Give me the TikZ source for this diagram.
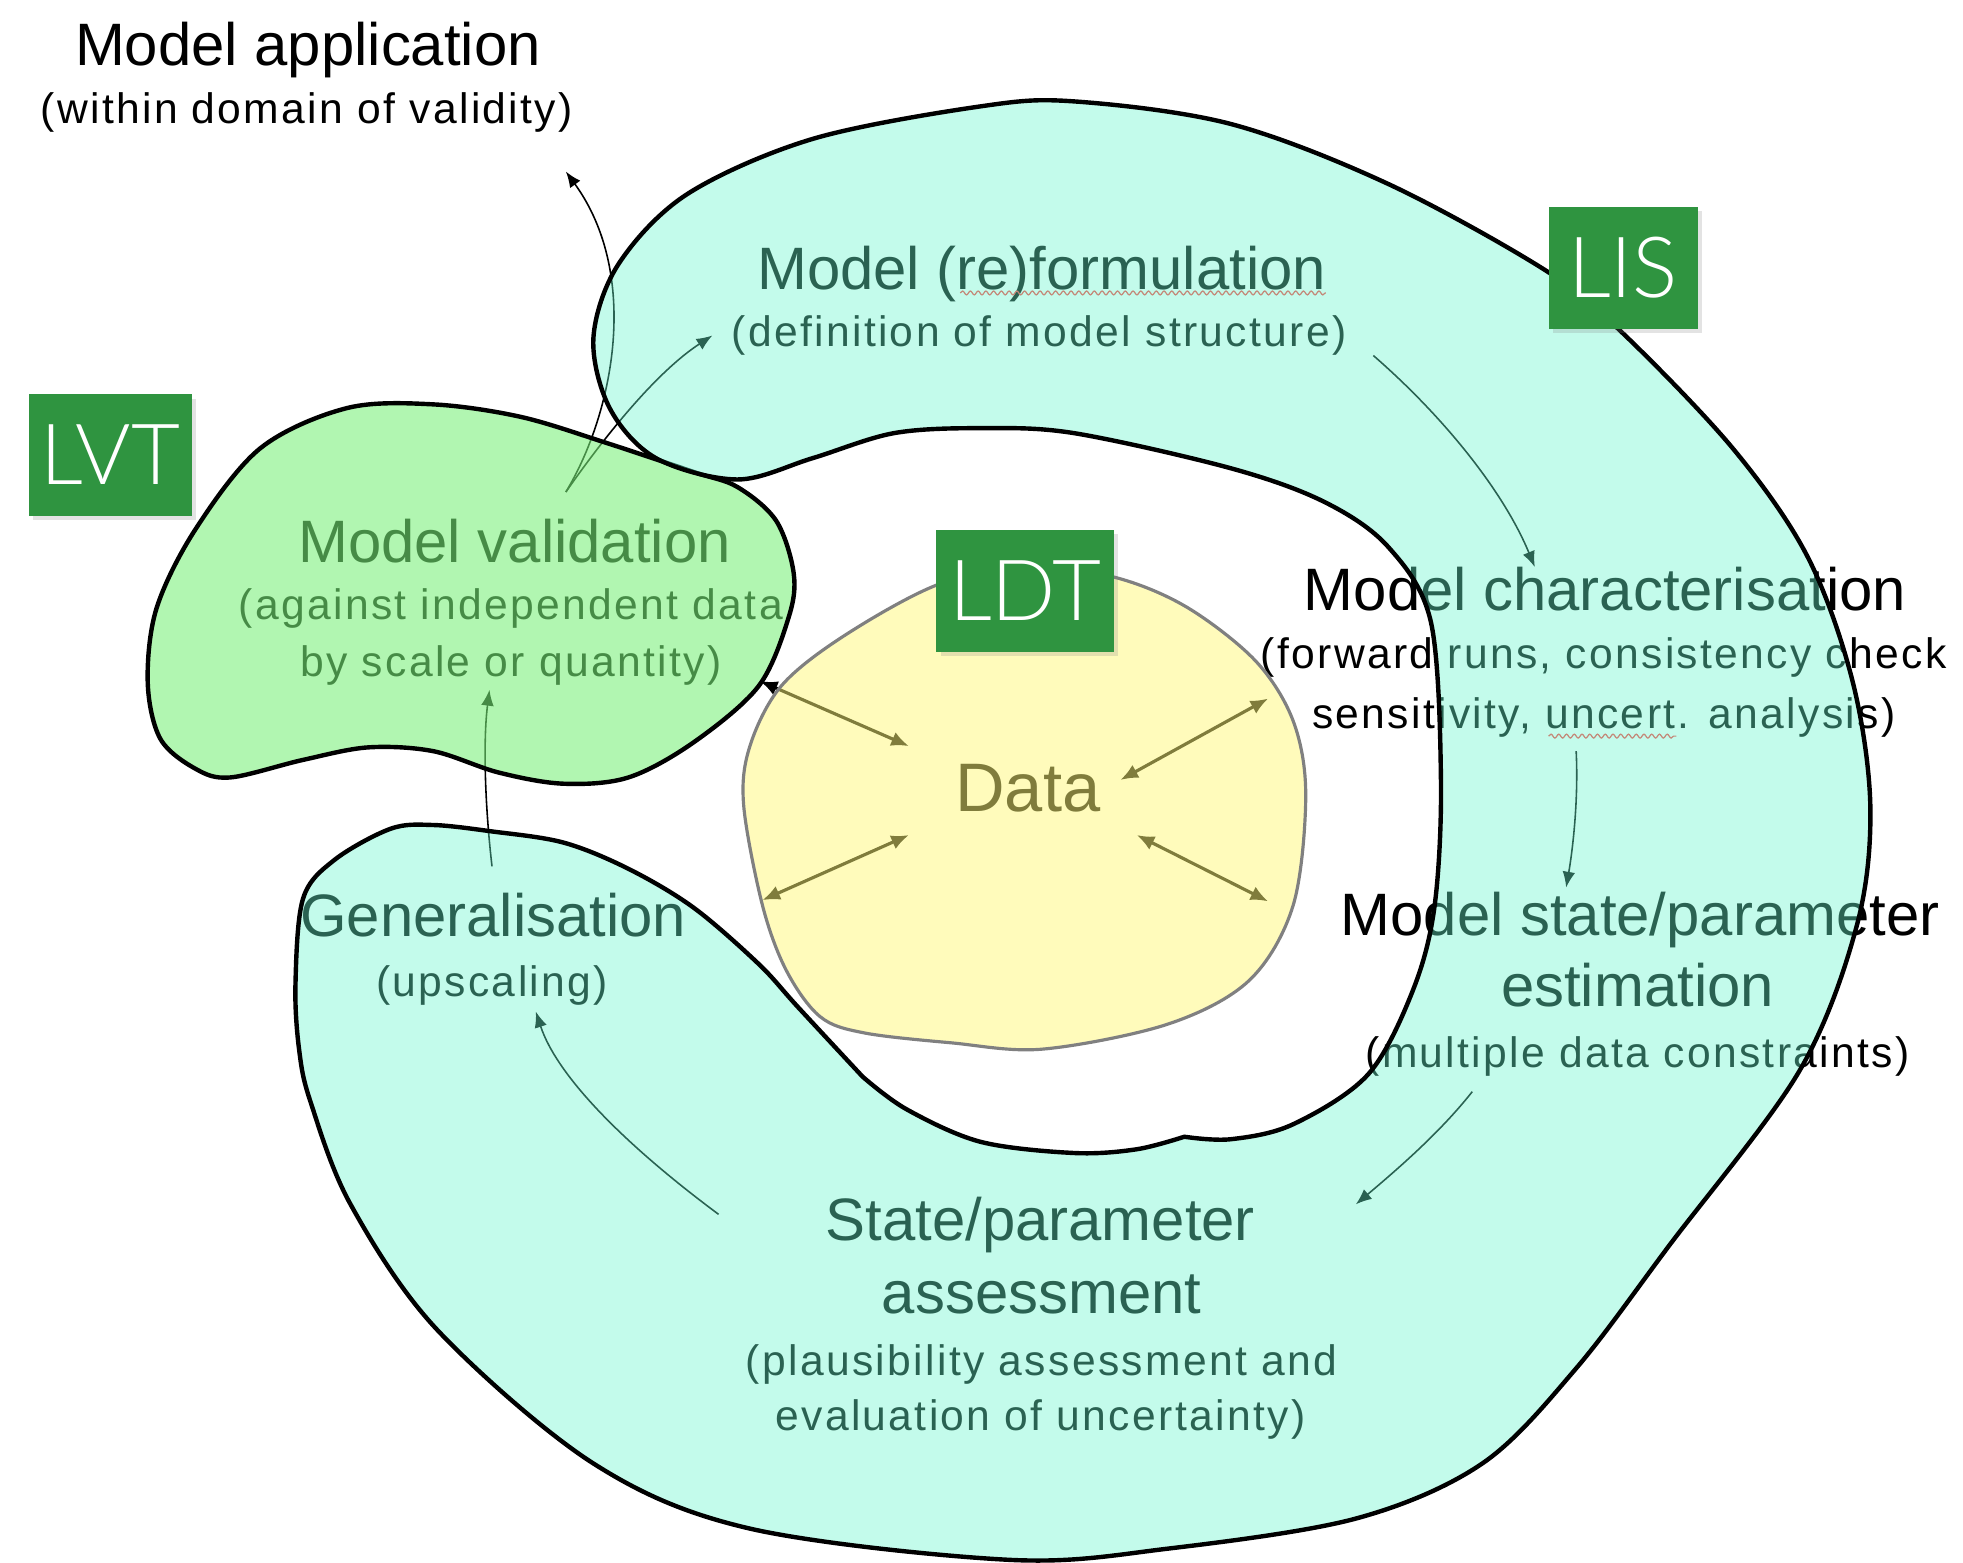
\documentclass[tikz,border=0pt]{standalone}
\usepackage{fontspec}
\setmainfont{Liberation Sans}
\newfontfamily\subfont[LetterSpace=5.5]{Liberation Sans}
\IfFontExistsTF{Lato Light}
  {\newfontfamily\tagfont{Lato Light}}
  {\IfFontExistsTF{Fira Sans Light}
    {\newfontfamily\tagfont{Fira Sans Light}}
    {\newfontfamily\tagfont{Liberation Sans}}}
\usetikzlibrary{arrows.meta,decorations.pathmorphing,shadows}

\definecolor{lisfill}{RGB}{107,247,207}
\definecolor{lvtfill}{RGB}{121,241,121}
\definecolor{ldtfill}{RGB}{255,249,121}
\definecolor{tagbg}{RGB}{47,148,64}
\definecolor{ldtline}{RGB}{128,128,128}

\begin{document}
\begin{tikzpicture}[x=0.0125cm,y=-0.0125cm,
  title/.style={font=\fontsize{17}{20}\selectfont, inner sep=0pt, anchor=base},
  sub/.style={font=\subfont\fontsize{12.1}{14}\selectfont, inner sep=0pt, anchor=base},
  datalabel/.style={font=\fontsize{19.5}{22}\selectfont, inner sep=0pt, anchor=base},
  flow/.style={-{Latex[length=4.5pt,width=3.6pt]}, line width=0.45pt},
  link/.style={{Latex[length=5pt,width=4.2pt]}-{Latex[length=5pt,width=4.2pt]}, line width=0.9pt},
  spell/.style={red!75, line width=0.35pt, decorate,
    decoration={snake, amplitude=0.55pt, segment length=2.2pt}},
  lis/.style={fill=lisfill, fill opacity=0.4, draw=black, draw opacity=1, line width=1.25pt},
  lvt/.style={fill=lvtfill, fill opacity=0.58, draw=black, draw opacity=1, line width=1.25pt},
  ldt/.style={fill=ldtfill, fill opacity=0.5, draw=ldtline, draw opacity=1, line width=0.9pt},
  tag/.style={fill=tagbg, text=white, font=\tagfont\fontsize{24}{26}\selectfont, inner sep=0pt,
    drop shadow={shadow xshift=1.2pt, shadow yshift=-1.2pt, opacity=0.22}},
]
% canvas
\fill[white] (0,0) rectangle (1568,1248);
\useasboundingbox (0,0) rectangle (1568,1248);

% ---- labels ----
\node[title] (app) at (246,52) {Model application};
\node[sub] (appsub) at (245,99) {(within domain of validity)};

\node[title] (reform) at (832,231) {Model (re)formulation};
\node[sub] (reformsub) at (830,277) {(definition of model structure)};

\node[title] (valid) at (411,449) {Model validation};
\node[sub] (validsubA) at (408,495) {(against independent data};
\node[sub] (validsubB) at (408,540) {by scale or quantity)};

\node[datalabel] (data) at (821,648) {Data};

\node[title] (charac) at (1282,488) {Model characterisation};
\node[sub] (characsubA) at (1281,534) {(forward runs, consistency check};
\node[sub] (characsubB) at (1281,582) {sensitivity, uncert. analysis)};

\node[title] (gen) at (394,748) {Generalisation};
\node[sub] (gensub) at (393,796) {(upscaling)};

\node[title] (estA) at (1310,747) {Model state/parameter};
\node[title] (estB) at (1308,804) {estimation};
\node[sub] (estsub) at (1308,853) {(multiple data constraints)};

\node[title] (assessA) at (831,991) {State/parameter};
\node[title] (assessB) at (832,1049) {assessment};
\node[sub] (assesssubA) at (832,1099) {(plausibility assessment and};
\node[sub] (assesssubB) at (831,1143) {evaluation of uncertainty)};

% spell-check underlines
\coordinate (sqA1) at (767,234); \coordinate (sqA2) at (1059,234);
\coordinate (sqB1) at (1237,588); \coordinate (sqB2) at (1339,588);
\draw[spell] (sqA1) -- (sqA2);
\draw[spell] (sqB1) -- (sqB2);

% ---- cycle arrows ----
\coordinate (validOut) at (452,393);
\coordinate (appIn) at (452,137);
\coordinate (reformIn) at (569,268);
\coordinate (reformOut) at (1097,284);
\coordinate (characIn) at (1226,453);
\coordinate (characOut) at (1259,600);
\coordinate (estIn) at (1251,709);
\coordinate (estOut) at (1176,872);
\coordinate (assessIn) at (1083,962);
\coordinate (assessOut) at (574,970);
\coordinate (genIn) at (428,808);
\coordinate (genOut) at (393,692);
\coordinate (validIn) at (391,551);

\draw[flow] (validOut) .. controls (490,330) and (512,220) .. (appIn);
\draw[flow] (validOut) .. controls (475,360) and (520,300) .. (reformIn);
\draw[flow] (reformOut) .. controls (1150,330) and (1200,390) .. (characIn);
\draw[flow] (characOut) .. controls (1261,640) and (1256,680) .. (estIn);
\draw[flow] (estOut) .. controls (1150,905) and (1115,935) .. (assessIn);
\draw[flow] (assessOut) .. controls (500,915) and (445,860) .. (genIn);
\draw[flow] (genOut) .. controls (387,640) and (386,590) .. (validIn);

% ---- data exchange arrows ----
\coordinate (dUL) at (726,596); \coordinate (vUL) at (607,544);
\coordinate (dUR) at (895,623); \coordinate (cUR) at (1013,558);
\coordinate (dLL) at (726,667); \coordinate (gLL) at (609,719);
\coordinate (dLR) at (908,667); \coordinate (eLR) at (1013,720);
\draw[link] (vUL) -- (dUL);
\draw[link] (cUR) -- (dUR);
\draw[link] (gLL) -- (dLL);
\draw[link] (eLR) -- (dLR);

% ---- translucent regions ----
% data core
\path[ldt] plot[smooth cycle, tension=0.55] coordinates {
  (749,467) (820,452) (890,461) (948,485) (1003,528) (1033,576) (1043,635)
  (1033,723) (998,783) (933,818) (833,838) (760,833) (690,825) (655,812)
  (628,775) (609,723) (594,643) (599,596) (624,548) (674,508)};

% validation lobe
\path[lvt] plot[smooth cycle, tension=0.55] coordinates {
  (118,545) (128,590) (156,614) (184,621) (242,607) (294,597) (346,600)
  (398,617) (450,626) (502,621) (554,593) (606,548) (630,493) (634,458)
  (620,416) (589,389) (554,377) (485,354) (416,333) (346,323) (277,326)
  (208,358) (156,423) (125,486)};

% iteration spiral
\path[lis] plot[smooth, tension=0.55] coordinates {
  (689,860) (724,886) (783,912) (858,921) (908,918) (946,908)}
  -- plot[smooth, tension=0.55] coordinates {
  (946,908) (983,910) (1033,898) (1093,858) (1129,790) (1146,723) (1151,623)
  (1143,497) (1109,437) (1058,401) (983,374) (858,346) (783,342) (714,346)
  (649,366) (589,383) (524,366) (487,326) (474,270) (494,211) (549,155)
  (649,111) (783,85) (858,81) (983,99) (1109,147) (1233,215) (1294,264)
  (1384,358) (1444,445) (1480,545) (1494,645) (1483,740)
  (1437,856) (1334,994) (1259,1093) (1184,1169) (1083,1213) (933,1237)
  (807,1246) (599,1221) (474,1169) (349,1062) (280,962) (248,880) (239,839)
  (236,787) (242,718) (267,687) (312,662) (346,659) (392,664) (450,673)
  (502,694) (554,725) (606,770) (637,804) (689,860)} -- cycle;

% ---- tags ----
\node[tag, minimum width=1.625cm, minimum height=1.2125cm] (lvttag) at (88,363.5) {LVT};
\node[tag, minimum width=1.4875cm, minimum height=1.225cm] (listag) at (1296.5,214) {LIS};
\node[tag, minimum width=1.775cm, minimum height=1.225cm] (ldttag) at (819,472) {LDT};
\end{tikzpicture}
\end{document}
